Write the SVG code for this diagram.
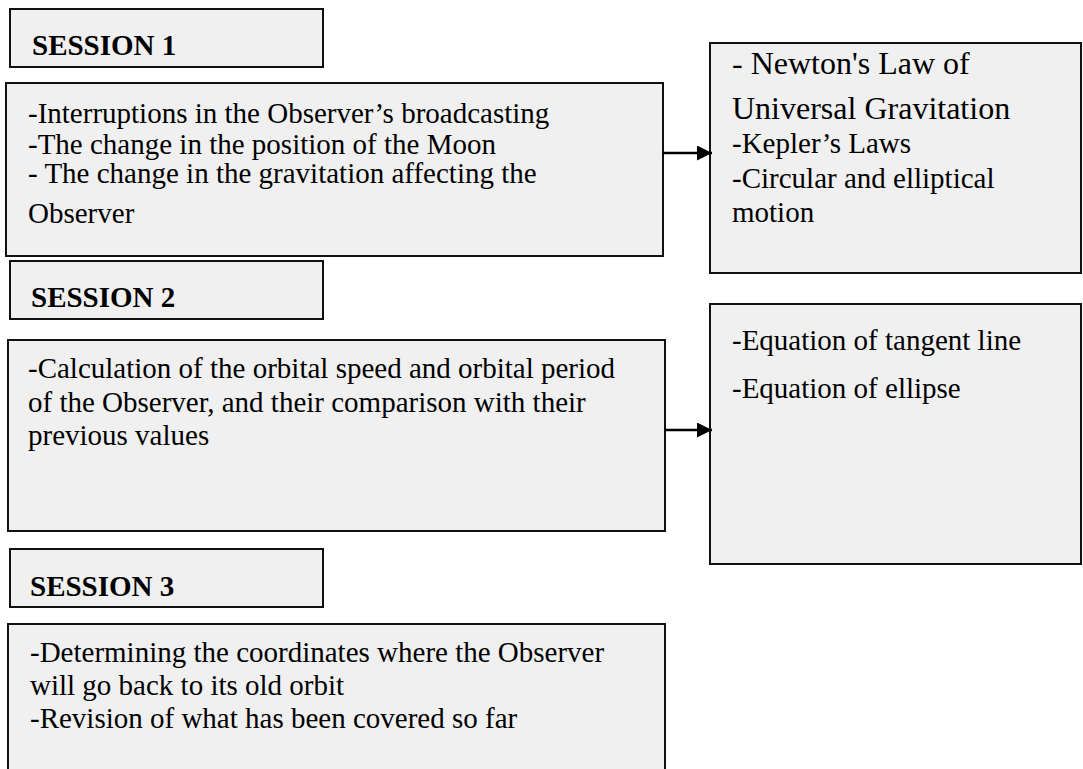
<svg xmlns="http://www.w3.org/2000/svg" width="1083" height="769" viewBox="0 0 1083 769">
<defs>
<style>
.box{fill:#f0f0f0;stroke:#111;stroke-width:2}
.t{font-family:"Liberation Serif","Times New Roman",serif;font-size:29px;fill:#000}
.big{font-size:32px}
.h{font-family:"Liberation Serif","Times New Roman",serif;font-size:29px;font-weight:bold;fill:#000}
.conn{stroke:#000;stroke-width:2.5;fill:none}
</style>
<marker id="arr" viewBox="0 0 10 10" refX="10" refY="5" markerWidth="6" markerHeight="6" markerUnits="strokeWidth" orient="auto">
<path d="M0,0 L10,5 L0,10 z" fill="#000"/>
</marker>
</defs>
<rect width="1083" height="769" fill="#fff"/>

<g id="session1-title">
<rect class="box" x="10" y="9" width="313" height="58"/>
<text class="h" x="32" y="55">SESSION 1</text>
</g>
<g id="session1-content">
<rect class="box" x="6" y="83" width="657" height="173"/>
<text class="t" x="28" y="123">-Interruptions in the Observer’s broadcasting</text>
<text class="t" x="28" y="154">-The change in the position of the Moon</text>
<text class="t" x="28" y="183">- The change in the gravitation affecting the</text>
<text class="t" x="28" y="223">Observer</text>
</g>
<g id="topics1">
<rect class="box" x="710" y="43" width="371" height="230"/>
<text class="t big" x="732" y="74">- Newton's Law of</text>
<text class="t big" x="732" y="119">Universal Gravitation</text>
<text class="t" x="732" y="153">-Kepler’s Laws</text>
<text class="t" x="732" y="188">-Circular and elliptical</text>
<text class="t" x="732" y="222">motion</text>
</g>

<g id="session2-title">
<rect class="box" x="10" y="261" width="313" height="58"/>
<text class="h" x="31" y="307">SESSION 2</text>
</g>
<g id="session2-content">
<rect class="box" x="8" y="340" width="657" height="191"/>
<text class="t" x="28" y="378">-Calculation of the orbital speed and orbital period</text>
<text class="t" x="28" y="412">of the Observer, and their comparison with their</text>
<text class="t" x="28" y="445">previous values</text>
</g>
<g id="topics2">
<rect class="box" x="710" y="304" width="371" height="260"/>
<text class="t" x="732" y="350">-Equation of tangent line</text>
<text class="t" x="732" y="398">-Equation of ellipse</text>
</g>

<g id="session3-title">
<rect class="box" x="10" y="549" width="313" height="58"/>
<text class="h" x="30" y="596">SESSION 3</text>
</g>
<g id="session3-content">
<rect class="box" x="8" y="624" width="657" height="160"/>
<text class="t" x="30" y="662">-Determining the coordinates where the Observer</text>
<text class="t" x="30" y="695">will go back to its old orbit</text>
<text class="t" x="30" y="728">-Revision of what has been covered so far</text>
</g>

<g id="connectors">
<line class="conn" x1="663" y1="153" x2="712" y2="153" marker-end="url(#arr)"/>
<line class="conn" x1="665" y1="430" x2="712" y2="430" marker-end="url(#arr)"/>
</g>
</svg>
